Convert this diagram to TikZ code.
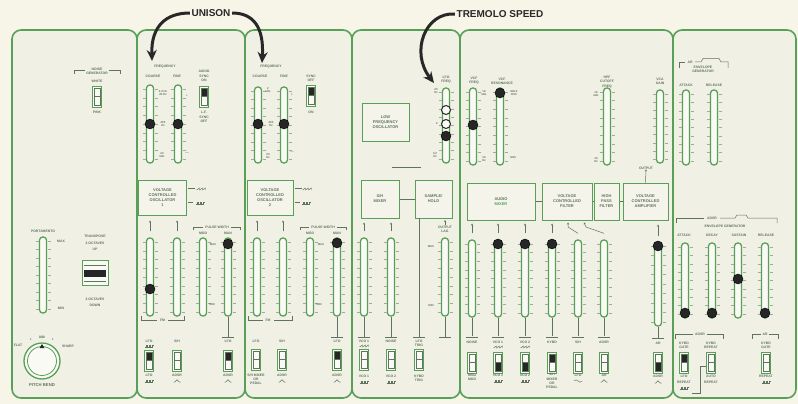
\documentclass[tikz,border=0pt]{standalone}
\usepackage{fontspec}
\setmainfont{Liberation Sans}
\usetikzlibrary{arrows.meta,calc}
\definecolor{bgcol}{RGB}{247,244,232}
\definecolor{panelbg}{RGB}{241,240,229}
\definecolor{pgreen}{RGB}{88,160,88}
\definecolor{lblcol}{RGB}{95,115,95}
\definecolor{boxbg}{RGB}{245,244,235}
\definecolor{slotbg}{RGB}{250,250,244}
\definecolor{ink}{RGB}{40,40,40}
\tikzset{
 slid/.style={draw=pgreen, line width=1.3pt, fill=slotbg, rounded corners=3.2pt, minimum width=7pt, inner sep=0pt},
 tck/.style={draw=lblcol!60, line width=0.4pt},
 swbox/.style={draw=pgreen, line width=0.9pt, fill=slotbg, minimum width=9pt, minimum height=21pt, inner sep=0pt},
 swin/.style={draw=lblcol, line width=0.4pt},
 knob/.style={circle, fill=black!85, draw=black, minimum size=10pt, inner sep=0pt},
 oknob/.style={circle, fill=slotbg, draw=black!85, line width=1pt, minimum size=9pt, inner sep=0pt},
 lbl/.style={font=\fontsize{3.4}{4.2}\selectfont\bfseries, text=lblcol, inner sep=0pt, align=center},
 lblw/.style={font=\fontsize{3.4}{6.3}\selectfont\bfseries, text=lblcol, inner sep=0pt, align=center},
 lbls/.style={font=\fontsize{2.8}{3.4}\selectfont\bfseries, text=lblcol, inner sep=0pt, align=center},
 blk/.style={draw=pgreen, line width=1pt, fill=boxbg, font=\fontsize{4}{5}\selectfont\bfseries, text=lblcol, align=center, inner sep=0pt},
 conn/.style={draw=lblcol, line width=0.5pt},
 upar/.style={draw=lblcol, line width=0.5pt, -{Stealth[length=2pt,width=2pt]}},
 wave/.style={draw=lblcol, line width=0.45pt},
 bigarrow/.style={draw=ink, line width=3pt, -{Stealth[length=11pt,width=10pt]}},
 title/.style={font=\fontsize{10}{11}\selectfont\bfseries, text=ink, inner sep=1.5pt},
}
\newcommand{\mysl}[4]{%
  \node[slid, minimum height={(#4)-(#3)}] (#1) at (#2,{((#3)+(#4))/2}) {};
  \foreach \k in {0,...,8}{%
    \draw[tck] ({#2-7.5},{#3+4+\k*((#4)-(#3)-8)/8}) -- ++(3,0);
    \draw[tck] ({#2+4.5},{#3+4+\k*((#4)-(#3)-8)/8}) -- ++(3,0);}%
}
\newcommand{\mysw}[4]{%
  \node[swbox] (#1) at (#2,{#3+10.5}) {};
  \ifcase#4\relax
  \or \fill[black!85] ({#2-3.3},{#3+1.8}) rectangle ({#2+3.3},{#3+10.5});
  \or \fill[black!85] ({#2-3.3},{#3+10.5}) rectangle ({#2+3.3},{#3+19.2});
  \fi
  \draw[swin] ({#2-3.3},{#3+1.8}) rectangle ({#2+3.3},{#3+19.2});
  \draw[swin] ({#2-3.3},{#3+10.5}) -- ({#2+3.3},{#3+10.5});
}
\newcommand{\mysq}[2]{\draw[wave] ({#1-4.5},{#2+1}) -- ++(1.5,0) -- ++(0,-2) -- ++(1.5,0) -- ++(0,2) -- ++(1.5,0) -- ++(0,-2) -- ++(1.5,0) -- ++(0,2) -- ++(1.5,0) -- ++(0,-2) -- ++(1.5,0);}
\newcommand{\mysaw}[2]{\draw[wave] ({#1-4.5},{#2+1}) -- ++(3,-2) -- ++(0,2) -- ++(3,-2) -- ++(0,2) -- ++(3,-2) -- ++(0,2);}
\newcommand{\mytri}[2]{\draw[wave] ({#1-3.5},{#2+1.2}) -- ++(1,0) -- ++(2.5,-2.4) -- ++(2.5,2.4) -- ++(1,0);}
\newcommand{\mysine}[2]{\draw[wave] ({#1-4},{#2}) sin ++(2,-1.2) cos ++(2,1.2) sin ++(2,1.2) cos ++(2,-1.2);}
\newcommand{\xbar}[2]{\draw[conn] ({#1-6},#2) -- ({#1+6},#2);}
\begin{document}
\begin{tikzpicture}[x=1pt,y=-1pt]
\fill[bgcol] (0,0) rectangle (798,404);
\useasboundingbox (0,0) rectangle (798,404);
% panels
\foreach \a/\b in {12/137,137/245,245/352,352/460,460/673,673/796}
  \fill[panelbg, rounded corners=9pt] (\a,30) rectangle (\b,398);
\foreach \a/\b in {12/137,137/245,245/352,352/460,460/673,673/796}
  \draw[pgreen, line width=1.6pt, rounded corners=9pt] (\a,30) rectangle (\b,398);
% titles and arrows
\node[title] (unison) at (211,13) {UNISON};
\node[title] (tremolo) at (500,14) {TREMOLO SPEED};
\coordinate (u1) at (152,61);
\coordinate (u2) at (262,63);
\coordinate (tr) at (434,83);
\draw[bigarrow] (unison.west) .. controls (166,13) and (151,26) .. (u1);
\draw[bigarrow] (unison.east) .. controls (254,13) and (264,28) .. (u2);
\draw[bigarrow] (tremolo.west) .. controls (425,12) and (410,52) .. (tr);

% ---------- panel 1
\node[lbl] (ngl) at (97,71) {NOISE\\GENERATOR};
\draw[conn] (74,74) -- (74,70) -- (85,70);
\draw[conn] (109,70) -- (120,70) -- (120,74);
\node[lbl] (nwh) at (97,81) {WHITE};
\mysw{nsw}{97}{86}{0}
\node[lbl] (npk) at (97,112) {PINK};
\node[lbl] (portl) at (43,231) {PORTAMENTO};
\mysl{port}{43}{237}{313}
\node[lbl] (pmax) at (61,241) {MAX};
\node[lbl] (pmin) at (61,308) {MIN};
\node[lblw] (trl) at (95,243) {TRANSPOSE\\2 OCTAVES\\UP};
\node[draw=pgreen, line width=0.9pt, fill=slotbg, minimum width=26pt, minimum height=25pt, inner sep=0pt] (trsw) at (95,272.5) {};
\draw[swin] (84,265) -- (106,265);
\draw[swin] (84,281) -- (106,281);
\fill[black!85] (84,269.5) rectangle (106,277);
\node[lblw] (trd) at (95,302) {2 OCTAVES\\DOWN};
\node[draw=pgreen, line width=1.3pt, circle, minimum size=36pt, fill=slotbg, inner sep=0pt] (pb) at (42,361) {};
\node[draw=pgreen, line width=0.8pt, circle, minimum size=29pt, inner sep=0pt] (pbi) at (pb.center) {};
\node[lbl, text=pgreen!70!black] (pb0) at (42,337) {000};
\fill[black!85] (39.5,348) -- (44.5,348) -- (42,344) -- cycle;
\node[lbls] (pbl1) at (31,340) {1};
\node[lbls] (pbl2) at (53,340) {1};
\node[lbl] (flat) at (18,345) {FLAT};
\node[lbl] (sharp) at (68,346) {SHARP};
\node[lbl, font=\fontsize{4.2}{5}\selectfont\bfseries] (pbl) at (42,385) {PITCH BEND};

% ---------- panel 2
\node[lbl] (f1) at (165,67) {FREQUENCY};
\node[lbl] (c1l) at (153,76) {COARSE};
\node[lbl] (fi1l) at (177,76) {FINE};
\mysl{c1}{150}{85}{163}
\mysl{fi1}{178}{85}{163}
\node[knob] (kc1) at (150,124) {};
\node[knob] (kfi1) at (178,124) {};
\node[lbls] (c1a) at (163,93) {0.2 Hz\\20 Hz};
\node[lbls] (c1b) at (163,124) {200\\Hz};
\node[lbls] (c1c) at (162,155) {20\\kHz};
\node[lbls] (fi1a) at (187,96) {+};
\node[lbls] (fi1b) at (187,153) {$-$};
\node[lbl] (as1) at (204,76) {AUDIO\\SYNC\\ON};
\mysw{as1sw}{204}{86}{1}
\node[lbl] (as1b) at (204,117) {L.F.\\SYNC\\OFF};
\node[blk, minimum width=48pt, minimum height=35pt] (vco1) at (162.5,197.5) {VOLTAGE\\CONTROLLED\\OSCILLATOR\\1};
\draw[conn] ($(vco1.north east)+(1,9)$) -- ++(7,0);
\mysaw{201}{189}
\draw[conn] ($(vco1.north east)+(1,23)$) -- ++(5,0);
\mysq{200}{203}
\mysl{s1a}{150}{238}{316}
\mysl{s1b}{177}{238}{316}
\mysl{s1c}{203}{238}{316}
\mysl{s1d}{228}{238}{316}
\node[knob] (ks1a) at (150,289) {};
\node[knob] (ks1d) at (228,244) {};
\draw[upar] ($(s1a.north)+(0,-6)$) -- ($(s1a.north |- vco1.south)+(0,5)$);
\draw[upar] ($(s1b.north)+(0,-6)$) -- ($(s1b.north |- vco1.south)+(0,5)$);
\node[lbl] (pw1) at (217,227) {PULSE WIDTH};
\draw[conn] (193,230) -- (193,227) -- (203,227);
\draw[conn] (231,227) -- (240,227) -- (240,230);
\node[lbl] (pw1m) at (203,233) {MOD};
\node[lbl] (pw1n) at (228,233) {MAN};
\node[lbls] (pw1x) at (213,245) {MAX};
\node[lbls] (pw1y) at (212,305) {MIN};
\node[lbl] (fm1) at (162.5,320) {FM};
\draw[conn] (141,316) -- (141,320) -- (157,320);
\draw[conn] (168,320) -- (184,320) -- (184,316);
\draw[conn] (s1d.south) -- (228,337);
\xbar{228}{337}
\node[lbl] (t1a) at (149,341) {LFO};
\mysq{149}{346}
\node[lbl] (t1b) at (177,341) {S/H};
\node[lbl] (t1d) at (228,341) {LFO};
\mysw{w1a}{149}{350}{1}
\mysw{w1b}{177}{350}{0}
\mysw{w1d}{228}{350}{1}
\node[lbl] (b1a) at (149,375) {LFO};
\mysq{149}{381}
\node[lbl] (b1b) at (177,375) {ADSR};
\mytri{177}{381}
\node[lbl] (b1d) at (228,375) {ADSR};
\mytri{228}{381}

% ---------- panel 3
\node[lbl] (f2) at (271,67) {FREQUENCY};
\node[lbl] (c2l) at (260,76) {COARSE};
\node[lbl] (fi2l) at (284,76) {FINE};
\mysl{c2}{258}{87}{163}
\mysl{fi2}{284}{87}{163}
\node[knob] (kc2) at (258,124) {};
\node[knob] (kfi2) at (284,124) {};
\node[lbls] (c2a) at (268,90) {2\\kHz};
\node[lbls] (c2b) at (271,124) {200\\Hz};
\node[lbls] (c2c) at (268,156) {20\\Hz};
\node[lbls] (fi2a) at (292,95) {+};
\node[lbls] (fi2b) at (292,152) {$-$};
\node[lbl] (sy2) at (311,78) {SYNC\\OFF};
\mysw{sy2sw}{311}{85}{1}
\node[lbl] (sy2b) at (311,112) {ON};
\node[blk, minimum width=46pt, minimum height=35pt] (vco2) at (270,197.5) {VOLTAGE\\CONTROLLED\\OSCILLATOR\\2};
\draw[conn] ($(vco2.north east)+(1,9)$) -- ++(7,0);
\mysaw{307}{189}
\draw[conn] ($(vco2.north east)+(1,23)$) -- ++(5,0);
\mysq{306}{203}
\mysl{s2a}{257}{238}{316}
\mysl{s2b}{283}{238}{316}
\mysl{s2c}{310}{238}{316}
\mysl{s2d}{337}{238}{316}
\node[knob] (ks2d) at (337,243) {};
\draw[upar] ($(s2a.north)+(0,-6)$) -- ($(s2a.north |- vco2.south)+(0,5)$);
\draw[upar] ($(s2b.north)+(0,-6)$) -- ($(s2b.north |- vco2.south)+(0,5)$);
\node[lbl] (pw2) at (323,227) {PULSE WIDTH};
\draw[conn] (300,230) -- (300,227) -- (309,227);
\draw[conn] (337,227) -- (346,227) -- (346,230);
\node[lbl] (pw2m) at (310,233) {MOD};
\node[lbl] (pw2n) at (337,233) {MAN};
\node[lbls] (pw2x) at (321,245) {MAX};
\node[lbls] (pw2y) at (319,305) {MIN};
\node[lbl] (fm2) at (268,320) {FM};
\draw[conn] (248,316) -- (248,320) -- (263,320);
\draw[conn] (274,320) -- (292,320) -- (292,316);
\draw[conn] (s2d.south) -- (337,337);
\xbar{337}{337}
\node[lbl] (t2a) at (256,341) {LFO};
\node[lbl] (t2b) at (282,341) {S/H};
\node[lbl] (t2d) at (337,341) {LFO};
\mysw{w2a}{256}{349}{0}
\mysw{w2b}{282}{349}{0}
\mysw{w2d}{337}{349}{1}
\node[lbl] (b2a) at (256,379) {S/H MIXER\\OR\\PEDAL};
\node[lbl] (b2b) at (282,375) {ADSR};
\mytri{282}{381}
\node[lbl] (b2d) at (337,375) {ADSR};
\mytri{337}{381}

% ---------- panel 4
\node[blk, minimum width=47pt, minimum height=38pt] (lfo) at (385.5,122) {LOW\\FREQUENCY\\OSCILLATOR};
\draw[conn] (392,167) -- (421,167);
\node[lbl] (lfofl) at (446,80) {LFO\\FREQ};
\mysl{lfof}{446}{88}{163}
\node[oknob] (ok1) at (446,110) {};
\node[oknob] (ok2) at (446,124) {};
\node[knob] (ok3) at (446,136) {};
\node[lbls] (lfa) at (436,91) {20\\Hz};
\node[lbls] (lfb) at (437,124) {2};
\node[lbls] (lfc) at (435,155) {0.2\\Hz};
\node[blk, minimum width=38pt, minimum height=38pt] (shm) at (380,199) {S/H\\MIXER};
\node[blk, minimum width=37pt, minimum height=38pt] (shh) at (433.5,199) {SAMPLE/\\HOLD};
\draw[conn] (shm.east) -- (shh.west);
\mysl{s3a}{364}{238}{316}
\mysl{s3b}{391}{238}{316}
\mysl{s3c}{445}{238}{316}
\draw[upar] ($(s3a.north)+(0,-6)$) -- ($(s3a.north |- shm.south)+(0,4)$);
\draw[upar] ($(s3b.north)+(0,-6)$) -- ($(s3b.north |- shm.south)+(0,4)$);
\node[lbl] (olag) at (445,229) {OUTPUT\\LAG};
\draw[upar] (olag.north) -- ($(olag.north |- shh.south)+(0,1.5)$);
\node[lbls] (olx) at (431,247) {MAX};
\node[lbls] (oly) at (431,306) {MIN};
\draw[conn] (419,218) -- (419,337);
\xbar{419}{337}
\draw[conn] (s3a.south) -- (364,337);
\xbar{364}{337}
\draw[conn] (s3b.south) -- (391,337);
\xbar{391}{337}
\draw[conn] (s3c.south) -- (445,337);
\xbar{445}{337}
\node[lbl] (t3a) at (364,341) {VCO 1};
\mysaw{364}{346}
\node[lbl] (t3b) at (391,341) {NOISE};
\node[lbl] (t3c) at (419,343) {LFO\\TRIG};
\mysw{w3a}{364}{349}{0}
\mysw{w3b}{391}{349}{0}
\mysw{w3c}{419}{349}{0}
\node[lbl] (b3a) at (364,376) {VCO 1};
\mysq{364}{382}
\node[lbl] (b3b) at (391,376) {VCO 2};
\mysq{391}{382}
\node[lbl] (b3c) at (419,378) {KYBD\\TRIG};

% ---------- panel 5
\node[lbl] (vffl) at (474,81) {VCF\\FREQ};
\node[lbl] (vfrl) at (502,81) {VCF\\RESONANCE};
\node[lbl] (hpfl) at (607,82) {HPF\\CUTOFF\\FREQ};
\node[lbl] (vcgl) at (660,81) {VCA\\GAIN};
\mysl{vcff}{473}{88}{165}
\mysl{vcfr}{500}{88}{165}
\mysl{hpff}{607}{88}{165}
\mysl{vcag}{660}{90}{163}
\node[knob] (kvf) at (473,125) {};
\node[knob] (kvr) at (500,93) {};
\node[lbls] (vfa) at (484,93) {16\\kHz};
\node[lbls] (vfb) at (484,159) {16\\Hz};
\node[lbls] (vra) at (514,93) {SELF\\OSC};
\node[lbls] (vrb) at (513,158) {MIN};
\node[lbls] (hpa) at (596,94) {16\\kHz};
\node[lbls] (hpb) at (596,160) {16\\Hz};
\node[blk, minimum width=68pt, minimum height=37pt] (amix) at (501,201.5) {AUDIO\\\textcolor{pgreen}{MIXER}};
\node[blk, minimum width=50pt, minimum height=37pt] (vcf) at (567,201.5) {VOLTAGE\\CONTROLLED\\FILTER};
\node[blk, minimum width=25pt, minimum height=37pt] (hpf) at (606.5,201.5) {HIGH\\PASS\\FILTER};
\node[blk, minimum width=45pt, minimum height=37pt] (vca) at (645.5,201.5) {VOLTAGE\\CONTROLLED\\AMPLIFIER};
\draw[conn] (amix.east) -- (vcf.west);
\draw[conn] (vcf.east) -- (hpf.west);
\draw[conn] (hpf.east) -- (vca.west);
\node[lbl] (outl) at (646,168) {OUTPUT};
\draw[upar] (vca.north) -- (outl.south);
\mysl{m1}{472}{240}{317}
\mysl{m2}{498}{240}{317}
\mysl{m3}{525}{240}{317}
\mysl{m4}{552}{240}{317}
\mysl{m5}{578}{240}{317}
\mysl{m6}{604}{240}{317}
\node[knob] (km2) at (498,244) {};
\node[knob] (km3) at (525,244) {};
\node[knob] (km4) at (552,244) {};
\draw[upar] ($(m1.north)+(0,-6)$) -- ($(m1.north |- amix.south)+(0,3)$);
\draw[upar] ($(m2.north)+(0,-6)$) -- ($(m2.north |- amix.south)+(0,3)$);
\draw[upar] ($(m3.north)+(0,-6)$) -- ($(m3.north |- amix.south)+(0,3)$);
\draw[upar] ($(m4.north)+(0,-6)$) -- ($(m4.north |- vcf.south)+(0,3)$);
\draw[upar] ($(m5.north)+(0,-6)$) -- (568,227) -- ($(vcf.south)+(1,2)$);
\draw[upar] ($(m6.north)+(0,-6)$) -- (586,227) -- ($(vcf.south)+(17,2)$);
\foreach \n/\xx in {m1/472,m2/498,m3/525,m4/552,m5/578,m6/604}{
  \draw[conn] (\n.south) -- (\xx,336);
  \xbar{\xx}{337}
}
\node[lbl] (t5a) at (472,342) {NOISE};
\node[lbl] (t5b) at (498,342) {VCO 1};
\mysaw{498}{347}
\node[lbl] (t5c) at (525,342) {VCO 2};
\mysaw{525}{347}
\node[lbl] (t5d) at (552,342) {KYBD};
\node[lbl] (t5e) at (578,342) {S/H};
\node[lbl] (t5f) at (604,342) {ADSR};
\mysw{w5a}{472}{352}{0}
\mysw{w5b}{498}{352}{2}
\mysw{w5c}{525}{352}{2}
\mysw{w5d}{552}{352}{1}
\mysw{w5e}{578}{352}{0}
\mysw{w5f}{604}{352}{0}
\node[lbl] (b5a) at (472,377) {RING\\MOD};
\node[lbl] (b5b) at (498,375) {VCO 1};
\mysq{498}{381}
\node[lbl] (b5c) at (525,375) {VCO 2};
\mysq{525}{381}
\node[lbl] (b5d) at (552,381) {S/H\\MIXER\\OR\\PEDAL};
\node[lbl] (b5e) at (578,375) {LFO};
\mysine{578}{381}
\node[lbl] (b5f) at (604,375) {AR};
\mytri{604}{381}
\mysl{vcal}{658}{242}{326}
\node[knob] (kvcal) at (658,246) {};
\draw[upar] ($(vcal.north)+(0,-5)$) -- ($(vcal.north |- vca.south)+(0,4)$);
\draw[conn] (vcal.south) -- (658,338);
\xbar{658}{338}
\node[lbl] (t5v) at (658,343) {AR};
\mysw{w5v}{658}{352}{2}
\node[lbl] (b5v) at (658,376) {ADSR};
\mytri{658}{382}

% ---------- panel 6
\node[lbl] (arl1) at (690,62.5) {AR};
\node[lbl] (arl2) at (703,69) {ENVELOPE\\GENERATOR};
\draw[conn] (679,68) -- (679,62) -- (685,62);
\draw[conn] (695,62) -- (701,62) -- (703,58.5) -- (719,58.5) -- (721,62) -- (728,62) -- (728,68);
\node[lbl] (arat) at (686,85) {ATTACK};
\node[lbl] (arre) at (714,85) {RELEASE};
\mysl{ara}{686}{90}{165}
\mysl{arr}{714}{90}{165}
\node[lbl] (adl1) at (712,218) {ADSR};
\node[lbl] (adl2) at (725,226) {ENVELOPE GENERATOR};
\draw[conn] (676,223) -- (676,218) -- (704,218);
\draw[conn] (720,218) -- (735,218) -- (737,215) -- (746,215) -- (748,218) -- (777,218) -- (777,223);
\node[lbl] (ada) at (684,235) {ATTACK};
\node[lbl] (add) at (712,235) {DECAY};
\node[lbl] (ads) at (739,235) {SUSTAIN};
\node[lbl] (adr) at (766,235) {RELEASE};
\mysl{ad1}{685}{243}{318}
\mysl{ad2}{712}{243}{318}
\mysl{ad3}{738}{243}{318}
\mysl{ad4}{765}{243}{318}
\node[knob] (kad1) at (685,313) {};
\node[knob] (kad2) at (712,313) {};
\node[knob] (kad3) at (738,279) {};
\node[knob] (kad4) at (765,313) {};
\node[lbl] (adsw) at (700,334) {ADSR};
\draw[conn] (675,339) -- (675,334) -- (693,334);
\draw[conn] (707,334) -- (723,334) -- (723,339);
\node[lbl] (arsw) at (765,334) {AR};
\draw[conn] (752,339) -- (752,334) -- (761,334);
\draw[conn] (769,334) -- (778,334) -- (778,339);
\node[lbl] (t6a) at (684,345) {KYBD\\GATE};
\node[lbl] (t6b) at (711,345) {KYBD\\REPEAT};
\node[lbl] (t6c) at (766,345) {KYBD\\GATE};
\mysw{e1}{684}{352}{1}
\mysw{e2}{711}{352}{0}
\mysw{e3}{766}{352}{0}
\node[lblw] (b6a) at (684,379.5) {LFO\\REPEAT};
\mysq{684}{388}
\node[lblw] (b6b) at (711,379.5) {AUTO\\REPEAT};
\node[lbl] (b6c) at (766,376) {REPEAT};
\mysq{766}{382}
\draw[conn] (e2.west) ++(0,4) -- (700,366.5) -- (700,393) -- (692,393);
\end{tikzpicture}
\end{document}
